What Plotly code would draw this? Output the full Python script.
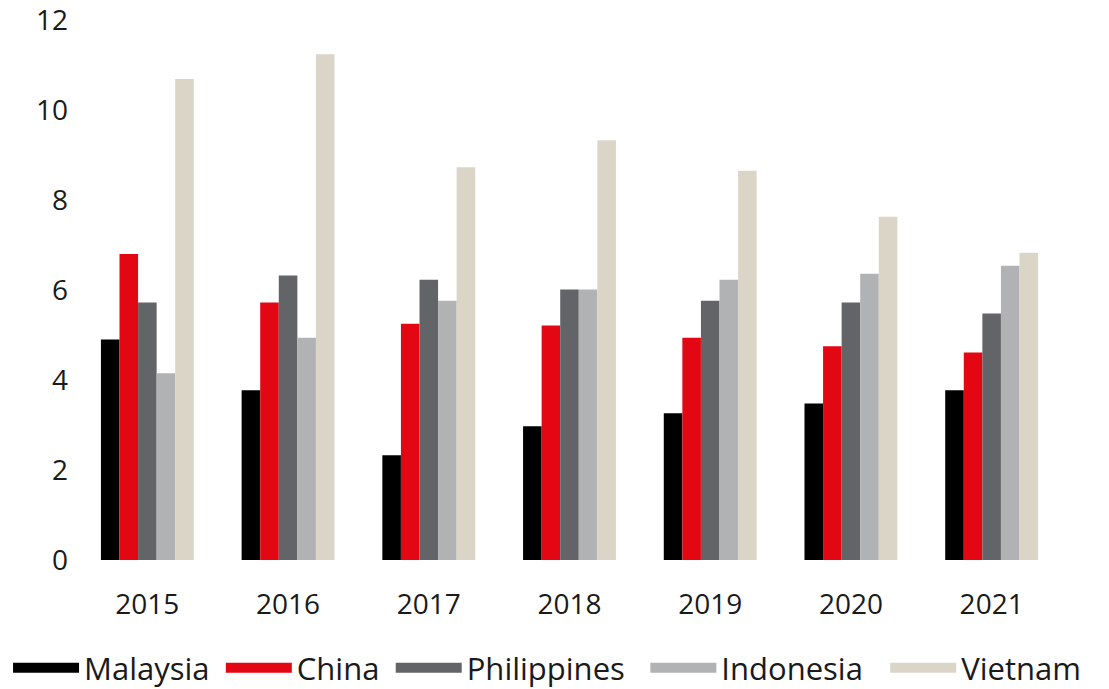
import plotly.graph_objects as go

years = ["2015", "2016", "2017", "2018", "2019", "2020", "2021"]
malaysia = [4.9, 3.77, 2.33, 2.97, 3.26, 3.48, 3.77]
china = [6.8, 5.72, 5.25, 5.21, 4.94, 4.75, 4.61]
philippines = [5.72, 6.32, 6.23, 6.01, 5.76, 5.72, 5.48]
indonesia = [4.15, 4.94, 5.76, 6.01, 6.23, 6.36, 6.54]
vietnam = [10.69, 11.24, 8.73, 9.33, 8.65, 7.63, 6.83]
y_ticks = [0, 2, 4, 6, 8, 10, 12]

series = [
    ("Malaysia", malaysia, "#000000"),
    ("China", china, "#e30613"),
    ("Philippines", philippines, "#636468"),
    ("Indonesia", indonesia, "#b1b2b4"),
    ("Vietnam", vietnam, "#dbd5c8"),
]
legend_ids = ["legend", "legend2", "legend3", "legend4", "legend5"]
legend_x = [-0.070, 0.146, 0.3185, 0.577, 0.8205]

fig = go.Figure()
for name, vals, col in series:
    fig.add_trace(go.Bar(x=years, y=vals, name=name, marker_color=col,
                         marker_line_width=0, showlegend=False, legendgroup=name))
for (name, vals, col), lid in zip(series, legend_ids):
    fig.add_trace(go.Scatter(x=[None], y=[None], name=name, mode="lines",
                             line=dict(color=col, width=20), legendgroup=name,
                             legend=lid))

legend_style = dict(orientation="h", xanchor="left", y=-0.2, yanchor="middle",
                    font=dict(size=31, color="#1a1a1a"), itemwidth=66,
                    tracegroupgap=0, itemclick=False, bgcolor="rgba(0,0,0,0)")

fig.update_layout(
    width=1101, height=681,
    margin=dict(l=68.5, r=46.5, t=12, b=129, autoexpand=False),
    paper_bgcolor="white", plot_bgcolor="white",
    barmode="group", bargap=0.34, bargroupgap=0,
    font=dict(family="Open Sans, sans-serif", size=28, color="#1a1a1a"),
    xaxis=dict(showgrid=False, showline=False, zeroline=False, automargin=False,
               ticks="", ticklabelstandoff=25, ticklabeloverflow="allow",
               tickfont=dict(size=28)),
    yaxis=dict(range=[0, 12], tickvals=y_ticks, showgrid=False, showline=False,
               zeroline=False, automargin=False, ticklabeloverflow="allow",
               ticks="", ticklabelstandoff=8, tickfont=dict(size=28)),
)
for lid, lx in zip(legend_ids, legend_x):
    fig.update_layout({lid: dict(x=lx, **legend_style)})

fig.write_html("out.html")
